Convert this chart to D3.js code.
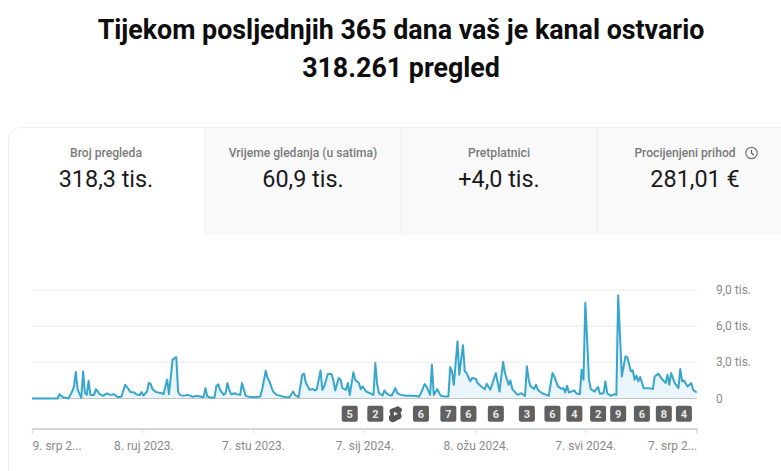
<!DOCTYPE html>
<html>
<head>
<meta charset="utf-8">
<script src="https://cdn.jsdelivr.net/npm/d3@7"></script>
<style>
html, body { margin: 0; padding: 0; background: #fff; overflow: hidden; }
svg { display: block; font-family: Roboto, sans-serif; }
</style>
</head>
<body>
<svg width="781" height="471"></svg>
<script>
const titleLines = ["Tijekom posljednjih 365 dana vaš je kanal ostvario", "318.261 pregled"];
const tabLabels = ["Broj pregleda", "Vrijeme gledanja (u satima)", "Pretplatnici", "Procijenjeni prihod"];
const tabValues = ["318,3 tis.", "60,9 tis.", "+4,0 tis.", "281,01 €"];

// days since 9 July 2023, views that day
const days = [0,14,15,17,20,22,23,24,25,27,28,29,30,31,32,34,35,37,39,41,43,45,47,49,51,52,54,56,57,59,60,61,63,64,65,66,68,71,72,74,75,77,79,80,81,83,85,87,88,90,
  92,94,95,96,98,100,101,102,103,105,106,107,108,109,111,112,114,115,117,119,122,125,126,128,129,130,132,134,136,139,141,143,144,146,148,149,150,152,154,155,156,158,159,160,162,164,165,166,168,169,170,172,173,174,176,177,179,180,181,183,
  185,187,188,189,190,192,193,194,196,197,199,200,202,205,209,212,213,215,216,218,219,220,222,223,224,226,228,229,230,231,233,234,236,237,238,240,241,243,244,246,248,249,251,254,256,258,259,261,262,263,265,266,268,270,271,272,273,275,276,277,
  278,280,283,285,286,288,290,291,292,293,294,297,298,300,301,302,303,304,305,306,308,310,311,313,314,315,317,319,320,321,323,325,326,328,329,330,331,332,333,335,338,340,341,343,345,347,348,349,350,352,354,355,356,357,359,361,362,364];
const views = [0,0,360,110,0,580,1000,2200,720,60,2250,440,300,1470,300,300,780,360,220,420,300,360,110,170,1140,950,530,500,360,280,530,250,580,1310,1200,780,530,440,360,1560,360,3220,3440,580,300,220,300,220,140,220,
  170,110,860,170,60,110,1060,1170,720,300,440,1280,720,360,440,360,300,1280,220,140,110,170,720,2300,1700,1420,580,300,220,110,110,580,300,110,1970,2060,1280,720,780,670,780,2330,720,1000,2030,2030,1560,670,1700,1560,860,720,1280,300,2170,1560,1280,780,1000,580,
  440,300,2950,1200,440,250,670,440,250,250,860,440,300,220,220,170,440,1200,1000,300,2810,300,780,440,220,170,170,2610,2250,1140,4750,1970,4420,2250,2110,1420,1700,1640,1280,1000,780,1220,720,2110,580,3030,2110,1140,1500,780,440,300,440,220,2670,1560,1000,800,1140,720,
  580,390,220,2110,1830,1000,800,860,500,1060,500,670,440,360,2390,1560,7950,4900,1560,780,580,950,390,440,1420,440,220,360,300,8560,1830,3500,3420,2250,2330,1560,1890,1420,1780,860,860,780,1830,2060,1610,1280,1970,1140,2110,1280,860,2450,1420,1500,1000,1280,720,500];

const yTicks = [0, 3000, 6000, 9000];
const yTickLabels = ["0", "3,0 tis.", "6,0 tis.", "9,0 tis."];
const xTickDays = [0, 61, 121, 182, 243, 303, 364];
const xTickLabels = ["9. srp 2...", "8. ruj 2023.", "7. stu 2023.", "7. sij 2024.", "8. ožu 2024.", "7. svi 2024.", "7. srp 2..."];

// notification chips under the line: day and label ("" is the shorts icon)
const chipDays = [174, 188, 199, 213, 228, 239, 254, 271, 285, 297, 310, 321, 334, 346, 357];
const chipLabels = ["5", "2", "", "6", "7", "6", "6", "3", "6", "4", "2", "9", "6", "8", "4"];

const svg = d3.select("svg");
const x = d3.scaleLinear().domain([0, 364]).range([32, 696.7]);
const y = d3.scaleLinear().domain([0, 9000]).range([398.5, 290]);

// title
svg.selectAll(".title")
  .data(titleLines)
  .join("text")
  .attr("class", "title")
  .attr("x", 401)
  .attr("y", (d, i) => 38.5 + i * 38)
  .attr("text-anchor", "middle")
  .attr("font-size", 26.8)
  .attr("font-weight", 700)
  .attr("fill", "#0d0d0d")
  .text(d => d);

// card outline
svg.append("path")
  .attr("d", "M8.5,471 V141 Q8.5,127.5 22,127.5 H781")
  .attr("fill", "none")
  .attr("stroke", "#eeeeee")
  .attr("stroke-width", 1.2);

// tabs
const tabEdges = [8, 205, 401, 597.5, 781];
svg.append("rect")
  .attr("x", tabEdges[1])
  .attr("y", 128)
  .attr("width", 781 - tabEdges[1])
  .attr("height", 107)
  .attr("fill", "#f9f9f9");
svg.selectAll(".divider")
  .data(tabEdges.slice(1, 4))
  .join("line")
  .attr("class", "divider")
  .attr("x1", d => d)
  .attr("x2", d => d)
  .attr("y1", 127)
  .attr("y2", 235)
  .attr("stroke", "#eeeeee")
  .attr("stroke-width", 1.2);

const tabCentres = [106, 303, 499, 685];
svg.selectAll(".tab-label")
  .data(tabLabels)
  .join("text")
  .attr("class", "tab-label")
  .attr("x", (d, i) => tabCentres[i])
  .attr("y", 157)
  .attr("text-anchor", "middle")
  .attr("font-size", 12.1)
  .attr("font-weight", 500)
  .attr("fill", "#7a7a7a")
  .text(d => d);

const valueCentres = [106, 303, 499, 695];
svg.selectAll(".tab-value")
  .data(tabValues)
  .join("text")
  .attr("class", "tab-value")
  .attr("x", (d, i) => valueCentres[i])
  .attr("y", 187)
  .attr("text-anchor", "middle")
  .attr("font-size", 23.4)
  .attr("fill", "#1a1a1a")
  .text(d => d);

// clock icon next to the revenue label
const clock = svg.append("g").attr("transform", "translate(751.5,153)");
clock.append("circle").attr("r", 5.7).attr("fill", "none").attr("stroke", "#777").attr("stroke-width", 1.2);
clock.append("path").attr("d", "M0,-3 V0 L2.2,2").attr("fill", "none").attr("stroke", "#555").attr("stroke-width", 1.2);

// grid
svg.selectAll(".grid")
  .data(yTicks.slice(1))
  .join("line")
  .attr("class", "grid")
  .attr("x1", x(0))
  .attr("x2", x(364))
  .attr("y1", d => y(d))
  .attr("y2", d => y(d))
  .attr("stroke", "#f0f0f0")
  .attr("stroke-width", 1.5);

svg.selectAll(".y-label")
  .data(yTicks)
  .join("text")
  .attr("class", "y-label")
  .attr("x", 716)
  .attr("y", d => y(d) + 4)
  .attr("font-size", 12)
  .attr("fill", "#8a8a8a")
  .text((d, i) => yTickLabels[i]);

// area and line
const points = days.map((d, i) => [d, views[i]]);
svg.append("path")
  .datum(points)
  .attr("d", d3.area().x(d => x(d[0])).y0(y(0)).y1(d => y(d[1])))
  .attr("fill", "#e9f5fa");

svg.append("line")
  .attr("x1", x(0))
  .attr("x2", x(364))
  .attr("y1", y(0))
  .attr("y2", y(0))
  .attr("stroke", "#c4c4c4")
  .attr("stroke-width", 1);

svg.append("path")
  .datum(points)
  .attr("d", d3.line().x(d => x(d[0])).y(d => y(d[1])))
  .attr("fill", "none")
  .attr("stroke", "#37a6cc")
  .attr("stroke-width", 2)
  .attr("stroke-linejoin", "round");

// chips
const chips = svg.selectAll(".chip")
  .data(chipDays)
  .join("g")
  .attr("class", "chip")
  .attr("transform", d => `translate(${x(d)},413.7)`);

chips.filter((d, i) => chipLabels[i] !== "")
  .append("rect")
  .attr("x", -8)
  .attr("y", -8)
  .attr("width", 16)
  .attr("height", 16)
  .attr("rx", 2)
  .attr("fill", "#606060");

chips.append("text")
  .attr("y", 4)
  .attr("text-anchor", "middle")
  .attr("font-size", 11)
  .attr("font-weight", 700)
  .attr("fill", "#e8e8e8")
  .text((d, i) => chipLabels[i]);

// shorts icon
chips.filter((d, i) => chipLabels[i] === "")
  .append("path")
  .attr("d", "M2.5,-7.5 L6,-5.5 Q7.5,-3 5,-1 L6,1 Q7,4 4,5.5 L-2,8.5 Q-6,8.5 -6.5,5 Q-7,2 -5,1 L-5.5,-1 Q-7,-3.5 -4,-5 Z")
  .attr("fill", "#555");
chips.filter((d, i) => chipLabels[i] === "")
  .append("path")
  .attr("d", "M-1.5,-2 L2.5,0 L-1.5,2 Z")
  .attr("fill", "#fff");

// x axis
const xAxis = d3.axisBottom(x)
  .tickValues(xTickDays)
  .tickSize(5)
  .tickPadding(8)
  .tickFormat((d, i) => xTickLabels[i]);

const axisG = svg.append("g")
  .attr("transform", "translate(0,428.5)")
  .call(xAxis);
axisG.select(".domain").attr("stroke", "#c8c8c8").attr("stroke-width", 1.3);
axisG.selectAll(".tick line").attr("stroke", "#dddddd");
axisG.selectAll(".tick text")
  .attr("font-family", "Roboto, sans-serif")
  .attr("font-size", 12)
  .attr("fill", "#8a8a8a")
  .attr("text-anchor", (d, i) => i === 0 ? "start" : (i === xTickDays.length - 1 ? "end" : "middle"));
</script>
</body>
</html>
